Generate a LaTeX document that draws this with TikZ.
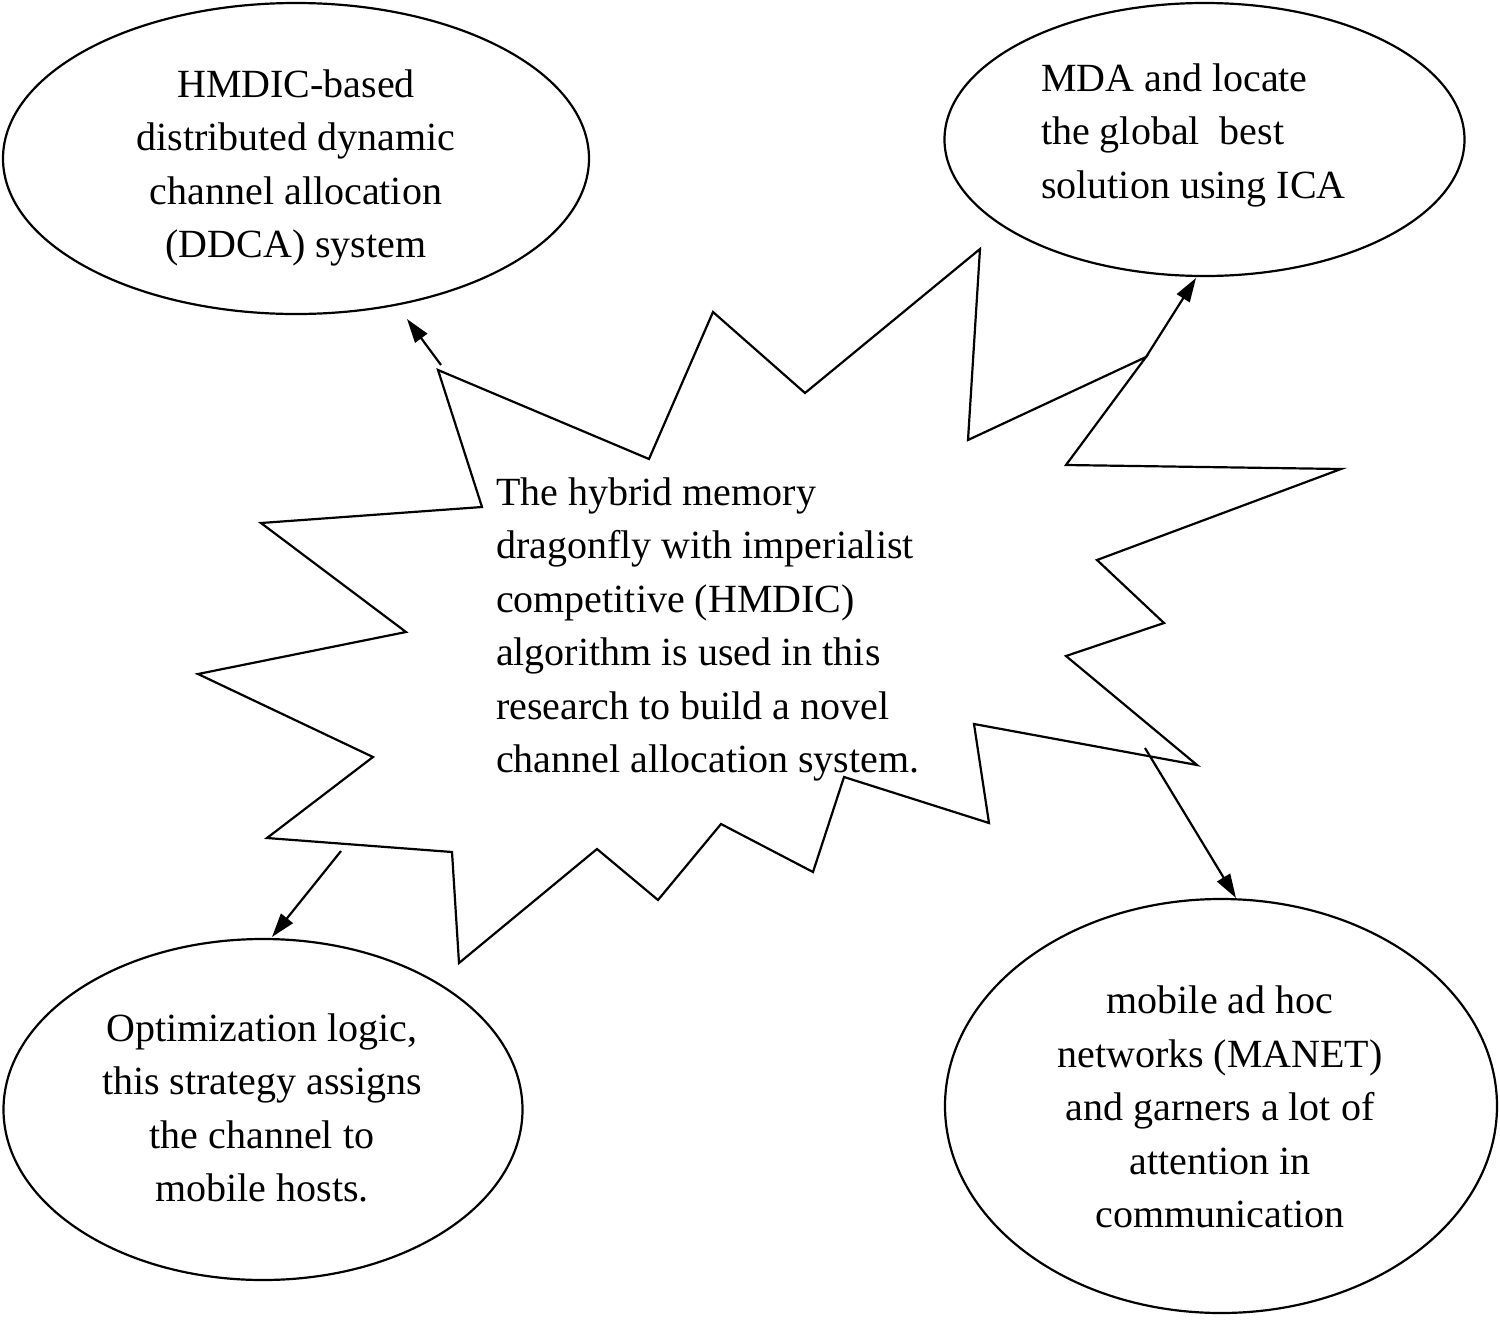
\documentclass[tikz,border=0pt]{standalone}
\usepackage{fontspec}
\setmainfont{Liberation Serif}
\usetikzlibrary{shapes.geometric,arrows.meta}
\begin{document}
\begin{tikzpicture}[x=1pt,y=-1pt,
  line width=2.2pt, line join=miter,
  bubble/.style={draw, ellipse, inner sep=0pt},
  txt/.style={inner sep=0pt, font=\fontsize{40}{53.5}\selectfont},
  conn/.style={-{Triangle[length=24pt,width=15pt]}, line width=2.2pt}]
\useasboundingbox (0,0) rectangle (1500,1320);
% ellipses
\node[bubble, minimum width=586pt, minimum height=311pt] (ddca) at (296,158.5) {};
\node[bubble, minimum width=520pt, minimum height=273pt] (mda) at (1204.5,139.5) {};
\node[bubble, minimum width=519pt, minimum height=341pt] (opt) at (263,1109.5) {};
\node[bubble, minimum width=552pt, minimum height=414pt] (manet) at (1221,1106) {};
% starburst
\draw (438,370) -- (649,459) -- (713,312) -- (805,393) -- (980,249) -- (968,440)
  -- (1146,357) -- (1066,465) -- (1341,469) -- (1097,560) -- (1164,623) -- (1066,656)
  -- (1197,765) -- (974,724) -- (989,823) -- (844,777) -- (813,872) -- (721,824)
  -- (658,900) -- (597,849) -- (459,963) -- (452,852) -- (267,838) -- (373,757)
  -- (198,674) -- (406,632) -- (261,523) -- (482,507) -- cycle;
% texts
\node[txt, align=center] (tddca) at (296,168) {HMDIC-based\\distributed dynamic\\channel allocation\\(DDCA) system};
\node[txt, align=left, anchor=west] (tmda) at (1040,135) {MDA and locate\\the global\ \ best\\solution using ICA};
\node[txt, align=left, anchor=west] (tcenter) at (495,629.5) {The hybrid memory\\dragonfly with imperialist\\competitive (HMDIC)\\algorithm is used in this\\research to build a novel\\channel allocation system.};
\node[txt, align=center] (topt) at (262,1108) {Optimization logic,\\this strategy assigns\\the channel to\\mobile hosts.};
\node[txt, align=center] (tmanet) at (1220,1107) {mobile ad hoc\\networks (MANET)\\and garners a lot of\\attention in\\communication};
% connector endpoints
\coordinate (s1) at (441,365);
\coordinate (e1) at (407,319);
\coordinate (s2) at (1146,357);
\coordinate (e2) at (1196,278);
\coordinate (s3) at (341,851);
\coordinate (e3) at (272,937);
\coordinate (s4) at (1145,748);
\coordinate (e4) at (1236,898);
\draw[conn] (s1) -- (e1);
\draw[conn] (s2) -- (e2);
\draw[conn] (s3) -- (e3);
\draw[conn] (s4) -- (e4);
\end{tikzpicture}
\end{document}
